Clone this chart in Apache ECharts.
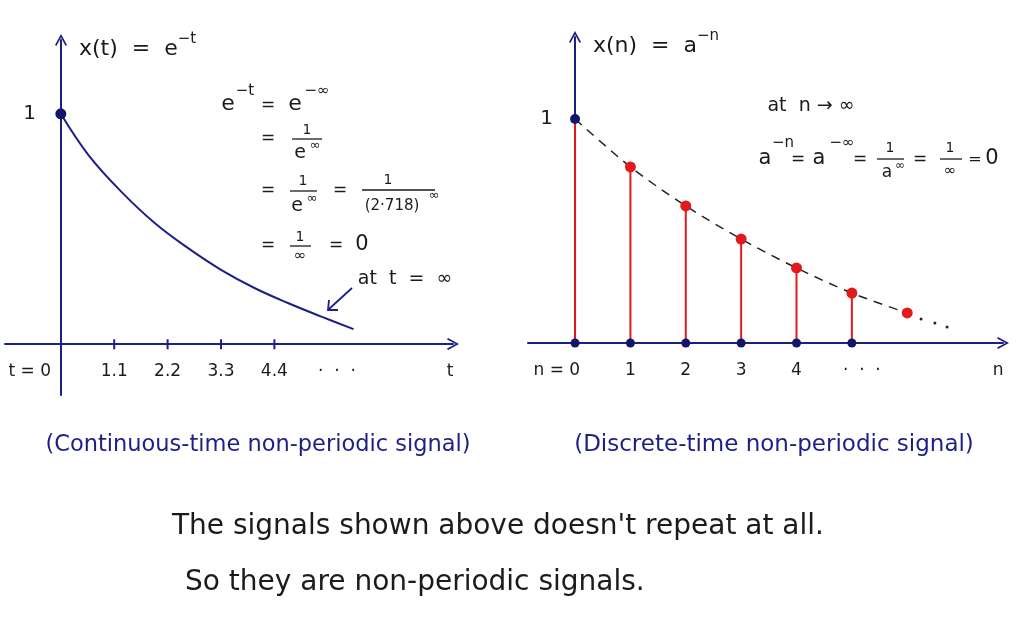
<!DOCTYPE html>
<html><head><meta charset="utf-8">
<script src="https://cdn.jsdelivr.net/npm/echarts@6/dist/echarts.min.js"></script>
<style>html,body{margin:0;padding:0;background:#fff}#c{width:1024px;height:624px}</style>
</head><body><div id="c"></div>
<script>
// ---- continuous-time signal x(t) ----
const tValues  = [0, 0.57, 1.26, 1.94, 2.63, 3.31, 4.00, 4.69, 5.37, 6.03];
const xtValues = [1, 0.821, 0.659, 0.525, 0.416, 0.322, 0.243, 0.178, 0.12, 0.066];
const tTicks = [1.1, 2.2, 3.3, 4.4];
const tLabelPos  = [-0.64, 1.1, 2.2, 3.3, 4.4, 5.69, 8.02];
const tLabelText = ['t = 0', '1.1', '2.2', '3.3', '4.4', '·  ·  ·', 't'];

// ---- discrete-time signal x(n) ----
const nValues  = [0, 1, 2, 3, 4, 5, 6];
const xnValues = [1, 0.786, 0.612, 0.464, 0.335, 0.223, 0.134];
const stemCount = 6; // stems drawn for n = 0..5
const tailN = [6.25, 6.5, 6.72];
const tailX = [0.107, 0.089, 0.071];
const nLabelPos  = [-0.33, 1, 2, 3, 4, 5.18, 7.64];
const nLabelText = ['n = 0', '1', '2', '3', '4', '·  ·  ·', 'n'];

const NAVY = '#1c1f86', DOT = '#12166b', RED = '#e3191b', INK = '#1b1b1b';
const FF = '"DejaVu Sans", sans-serif';
const ARROW = 'path://M6,0 L12,11 L10.6,12 L6,3.4 L1.4,12 L0,11 Z';

const chart = echarts.init(document.getElementById('c'));

function T(x, y, text, size, extra) {
  return Object.assign({ type: 'text', x: x, y: y, silent: true,
    style: Object.assign({ text: text, fontSize: size, fontFamily: FF, fill: INK,
      align: 'center', verticalAlign: 'middle' }, extra || {}) });
}
function bar(x1, x2, y) {
  return { type: 'line', silent: true, shape: { x1: x1, y1: y, x2: x2, y2: y },
    style: { stroke: INK, lineWidth: 1.3 } };
}

const axisLineStyle = { color: NAVY, width: 2 };
function xAx(grid, min, max, offset, pos, text) {
  return { gridIndex: grid, type: 'value', min: min, max: max, position: 'bottom', offset: offset,
    splitLine: { show: false }, axisTick: { show: false },
    axisLine: { onZero: false, lineStyle: axisLineStyle, symbol: ['none', ARROW], symbolSize: [12, 13] },
    axisLabel: { customValues: pos, showMinLabel: true, showMaxLabel: true, hideOverlap: false,
      margin: 19, fontSize: 17, fontFamily: FF, color: INK,
      formatter: v => text[pos.indexOf(v)] } };
}
function yAx(grid, min, max, offset, name, margin) {
  return { gridIndex: grid, type: 'value', min: min, max: max, position: 'left', offset: offset,
    splitLine: { show: false }, axisTick: { show: false },
    axisLine: { onZero: false, lineStyle: axisLineStyle, symbol: ['none', ARROW], symbolSize: [12, 13] },
    axisLabel: { customValues: [1], margin: margin, fontSize: 20, fontFamily: FF, color: INK, formatter: () => '1' },
    name: name, nameLocation: 'end', nameGap: -26,
    nameTextStyle: { align: 'left', verticalAlign: 'bottom', padding: [0, 0, 0, 18], fontFamily: FF,
      rich: { m: { fontSize: 22, fontFamily: FF, color: INK, lineHeight: 34 },
              s: { fontSize: 15, fontFamily: FF, color: INK, lineHeight: 15, verticalAlign: 'top' } } } };
}

const option = {
  animation: false,
  backgroundColor: '#fff',
  grid: [
    { left: 5, right: 571, top: 40, bottom: 229, containLabel: false, outerBoundsMode: 'none' },
    { left: 528, right: 21, top: 37, bottom: 281, containLabel: false, outerBoundsMode: 'none' }
  ],
  xAxis: [ xAx(0, -1.15, 8.08, -51, tLabelPos, tLabelText), xAx(1, -0.85, 7.73, 0, nLabelPos, nLabelText) ],
  yAxis: [ yAx(0, -0.22, 1.32, -56, '{m|x(t)  =  e}{s|−t}', 25), yAx(1, 0, 1.366, -47, '{m|x(n)  =  a}{s|−n}', 22) ],
  series: [
    { type: 'line', xAxisIndex: 0, yAxisIndex: 0, smooth: 0.4, showSymbol: false,
      data: tValues.map((t, i) => [t, xtValues[i]]), lineStyle: { color: NAVY, width: 2 }, z: 2 },
    { type: 'scatter', xAxisIndex: 0, yAxisIndex: 0, symbolSize: 11, itemStyle: { color: DOT, opacity: 1 },
      data: [[tValues[0], xtValues[0]]], z: 4 },
    { type: 'scatter', xAxisIndex: 0, yAxisIndex: 0, symbol: 'rect', symbolSize: [2, 10],
      itemStyle: { color: NAVY, opacity: 1 }, data: tTicks.map(t => [t, 0]), z: 3 },

    { type: 'line', xAxisIndex: 1, yAxisIndex: 1, smooth: 0.3, showSymbol: false,
      data: nValues.map((n, i) => [n, xnValues[i]]),
      lineStyle: { color: '#222', width: 1.5, type: [9, 7] }, z: 2 },
    { type: 'custom', xAxisIndex: 1, yAxisIndex: 1, z: 3,
      data: nValues.slice(0, stemCount).map((n, i) => [n, xnValues[i]]),
      renderItem: function (params, api) {
        const p0 = api.coord([api.value(0), 0]);
        const p1 = api.coord([api.value(0), api.value(1)]);
        return { type: 'line', shape: { x1: p0[0], y1: p0[1], x2: p1[0], y2: p1[1] },
          style: { stroke: RED, lineWidth: 2 } };
      } },
    { type: 'scatter', xAxisIndex: 1, yAxisIndex: 1, symbolSize: 11, itemStyle: { color: RED, opacity: 1 }, z: 4,
      data: nValues.slice(1).map((n, i) => [n, xnValues[i + 1]]) },
    { type: 'scatter', xAxisIndex: 1, yAxisIndex: 1, symbolSize: 10, itemStyle: { color: DOT, opacity: 1 }, z: 5,
      data: [[nValues[0], xnValues[0]]] },
    { type: 'scatter', xAxisIndex: 1, yAxisIndex: 1, symbolSize: 9, itemStyle: { color: DOT, opacity: 1 }, z: 5,
      data: nValues.slice(0, stemCount).map(n => [n, 0]) },
    { type: 'scatter', xAxisIndex: 1, yAxisIndex: 1, symbolSize: 3, itemStyle: { color: '#222', opacity: 1 }, z: 4,
      data: tailN.map((n, i) => [n, tailX[i]]) }
  ],
  graphic: [
    // left derivation
    T(228, 104, 'e', 22), T(245, 91, '−t', 15), T(268, 106, '=', 17), T(295, 104, 'e', 22), T(317, 91, '−∞', 15),
    T(268, 139, '=', 17), T(307, 130, '1', 14), bar(292, 322, 139), T(300, 153, 'e', 19), T(315, 146, '∞', 13),
    T(268, 191, '=', 17), T(303, 181, '1', 14), bar(290, 317, 191), T(297, 206, 'e', 19), T(312, 199, '∞', 13),
    T(340, 191, '=', 17), T(388, 180, '1', 14), bar(362, 435, 190), T(392, 206, '(2·718)', 15), T(434, 196, '∞', 13),
    T(268, 246, '=', 17), T(300, 237, '1', 14), bar(290, 311, 246), T(300, 256, '∞', 15),
    T(336, 246, '=', 17), T(362, 245, '0', 21),
    T(405, 279, 'at  t  =  ∞', 19),
    { type: 'polyline', silent: true, shape: { points: [[352, 288], [329, 309]] }, style: { stroke: NAVY, lineWidth: 1.8, fill: null } },
    { type: 'polyline', silent: true, shape: { points: [[329, 300], [328, 310], [338, 310]] }, style: { stroke: NAVY, lineWidth: 1.8, fill: null } },
    // right derivation
    T(811, 106, 'at  n → ∞', 19),
    T(765, 159, 'a', 21), T(783, 143, '−n', 15), T(798, 160, '=', 17), T(819, 159, 'a', 21), T(842, 143, '−∞', 15),
    T(860, 160, '=', 17), T(890, 148, '1', 14), bar(877, 904, 159), T(887, 173, 'a', 17), T(900, 166, '∞', 12),
    T(920, 160, '=', 17), T(950, 148, '1', 14), bar(940, 962, 159), T(950, 171, '∞', 15),
    T(975, 160, '=', 16), T(992, 159, '0', 21),
    // captions
    T(258, 445, '(Continuous-time non-periodic signal)', 22.5, { fill: NAVY }),
    T(774, 445, '(Discrete-time non-periodic signal)', 23, { fill: NAVY }),
    T(172, 527, "The signals shown above doesn't repeat at all.", 28, { align: 'left' }),
    T(185, 583, 'So they are non-periodic signals.', 28, { align: 'left' })
  ]
};
chart.setOption(option);
</script></body></html>
